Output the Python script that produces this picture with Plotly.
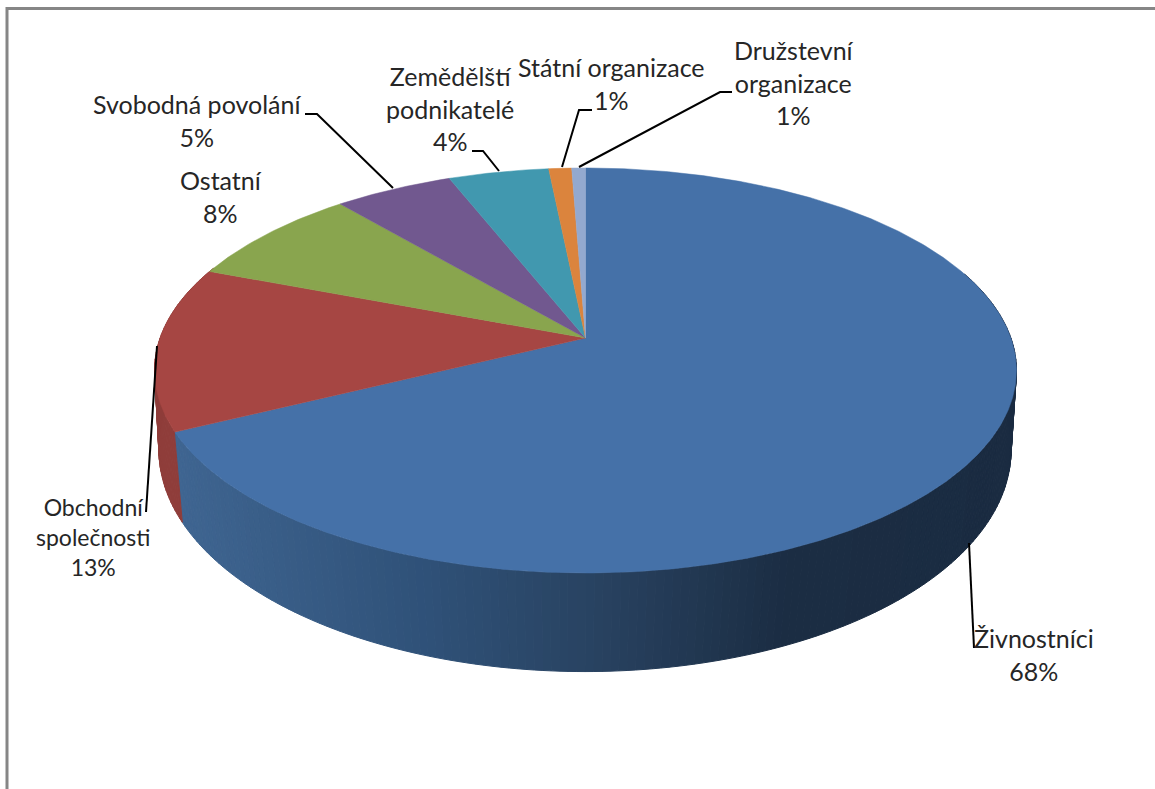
import math
import plotly.graph_objects as go

# --- data ---
categories = ["Živnostníci", "Obchodní<br>společnosti", "Ostatní", "Svobodná povolání",
              "Zemědělští<br>podnikatelé", "Státní organizace", "Družstevní<br>organizace"]
shares = [67.7, 13.1, 8.0, 5.2, 4.4, 1.0, 0.6]
top_colors = ["#4571A8", "#A64643", "#89A54E", "#71588F", "#4198AF", "#DB843D", "#93A9CF"]
red_wall = "#8F3D3A"

# --- layout of the drawing, in page pixels ---
W, H = 1155, 789
TOP = dict(cx=585.5, cy=338, a=425.4, b=197.3, k=0.1604)
BOT = dict(cx=585, cy=421, a=422.5, b=218, k=0.13)
label_pos = [(1034, 654), (93, 537), (221, 196), (197, 120), (450, 108), (611, 83.5), (794, 82)]
label_size = [25, 23, 25, 25, 25, 25, 25]
leaders = [
    [(969, 543), (974, 648)],
    [(157, 346), (146, 512)],
    [(305, 114), (317, 114), (393, 188)],
    [(472, 151), (483, 151), (499, 171)],
    [(592, 110), (579, 110), (562, 167)],
    [(732, 92), (720, 92), (579, 167)],
]
wall_stops = [(185, (0x3F, 0x65, 0x91)), (430, (0x2F, 0x51, 0x78)), (600, (0x28, 0x42, 0x60)),
              (780, (0x1B, 0x2D, 0x43)), (1020, (0x1A, 0x2B, 0x41))]


def rim(p, deg):
    """Perspective projection of a circle point; deg runs clockwise from 12 o'clock."""
    t = math.radians(deg)
    u, v = math.sin(t), math.cos(t)
    d = 1 + p["k"] * v
    return p["cx"] + p["a"] * u / d, p["cy"] - p["b"] * v / d


def arc(p, a0, a1):
    n = max(2, int(abs(a1 - a0) * 2))
    return [rim(p, a0 + (a1 - a0) * i / n) for i in range(n + 1)]


def wall_color(x):
    if x <= wall_stops[0][0]:
        c = wall_stops[0][1]
    else:
        c = wall_stops[-1][1]
        for (x0, c0), (x1, c1) in zip(wall_stops, wall_stops[1:]):
            if x0 <= x <= x1:
                f = (x - x0) / (x1 - x0)
                c = tuple(a + (b - a) * f for a, b in zip(c0, c1))
                break
    return "#" + "".join(f"{round(v):02X}" for v in c)


total = sum(shares)
edges = [0.0]
for s in shares:
    edges.append(edges[-1] + s / total * 360)

fig = go.Figure()


def poly(pts, color, lw=1.0):
    fig.add_trace(go.Scatter(
        x=[q[0] for q in pts] + [pts[0][0]], y=[q[1] for q in pts] + [pts[0][1]],
        mode="lines", fill="toself", fillcolor=color,
        line=dict(color=color, width=lw), hoverinfo="skip", showlegend=False))


# front wall, strip by strip
STEP = 1.0
deg = 70.0
while deg < 292:
    d1 = deg + STEP
    pts = [rim(TOP, deg), rim(TOP, d1), rim(BOT, d1), rim(BOT, deg)]
    mid = (deg + d1) / 2
    col = wall_color(rim(BOT, mid)[0]) if mid < edges[1] else red_wall
    poly(pts, col)
    deg = d1

# top face
for i, col in enumerate(top_colors):
    poly([(TOP["cx"], TOP["cy"])] + arc(TOP, edges[i], edges[i + 1]), col, 0.5)

# leader lines
for seg in leaders:
    fig.add_trace(go.Scatter(x=[q[0] for q in seg], y=[q[1] for q in seg], mode="lines",
                             line=dict(color="#000000", width=2), hoverinfo="skip", showlegend=False))

# frame
fig.add_trace(go.Scatter(x=[7, 7, W], y=[H, 8.5, 8.5], mode="lines",
                         line=dict(color="#868686", width=3), hoverinfo="skip", showlegend=False))

for name, s, (x, y), fs in zip(categories, shares, label_pos, label_size):
    fig.add_annotation(x=x, y=y, xref="x", yref="y", text=f"{name}<br>{round(s)}%", showarrow=False,
                       xanchor="center", yanchor="middle", align="center",
                       font=dict(family="Lato, Carlito, sans-serif", size=fs, color="#262626"))

fig.update_layout(width=W, height=H, margin=dict(l=0, r=0, t=0, b=0), paper_bgcolor="white",
                  plot_bgcolor="white", showlegend=False,
                  xaxis=dict(range=[0, W], visible=False, fixedrange=True),
                  yaxis=dict(range=[H, 0], visible=False, fixedrange=True))
fig.write_html("out.html", config={"displayModeBar": False},
               post_script="document.body.style.margin='0';")
